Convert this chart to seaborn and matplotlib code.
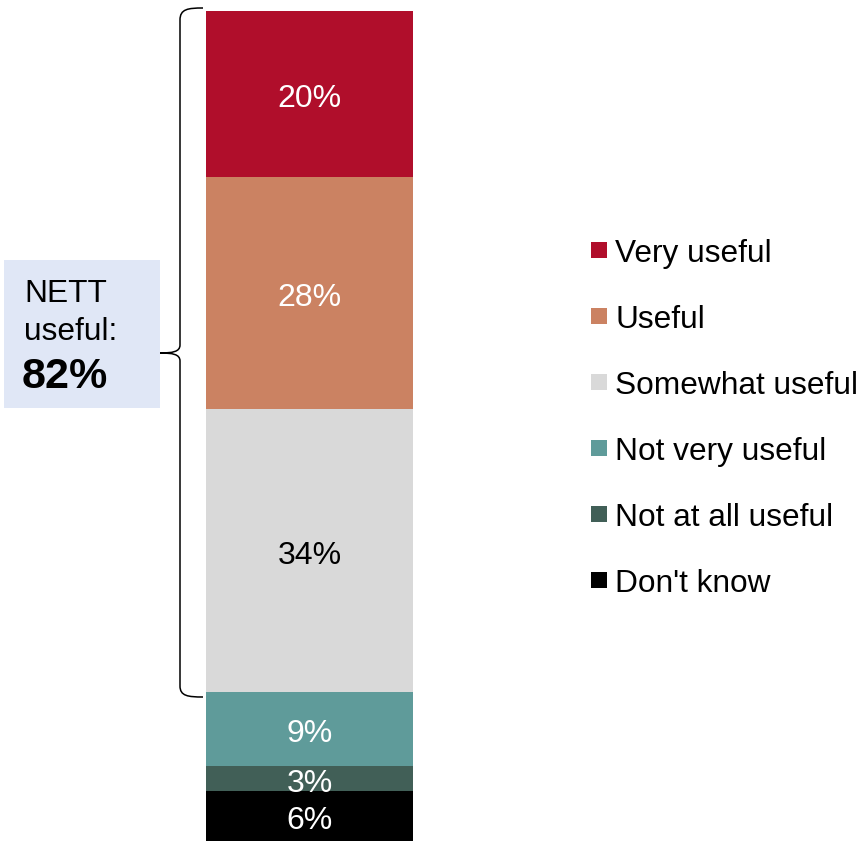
import matplotlib
matplotlib.use("Agg")
import matplotlib.pyplot as plt
import matplotlib.transforms as mtransforms
import seaborn as sns
import pandas as pd
import numpy as np
from matplotlib.path import Path
from matplotlib.patches import PathPatch, Rectangle

sns.set_theme(style="white")
plt.rcParams['font.family'] = ['Liberation Sans', 'DejaVu Sans']

# Data (bottom to top)
categories = ["Don't know", "Not at all useful", "Not very useful", "Somewhat useful", "Useful", "Very useful"]
values = [6, 3, 9, 34, 28, 20]
colors = ["#000000", "#415F57", "#5F9B9A", "#D9D9D9", "#CB8262", "#B00E2B"]
label_colors = ["white", "white", "white", "black", "white", "white"]
legend_order = ["Very useful", "Useful", "Somewhat useful", "Not very useful", "Not at all useful", "Don't know"]
nett_label = "82%"

W, H = 864, 841
fig = plt.figure(figsize=(W / 100, H / 100), dpi=100)

# Bar axes
ax = fig.add_axes([206 / W, 0, 207 / W, 830 / H])
cum = np.cumsum(values)
# draw cumulative bars from top to bottom so each overlays the previous
for i in range(len(values) - 1, -1, -1):
    df = pd.DataFrame({"grp": ["all"], "val": [cum[i]]})
    sns.barplot(data=df, x="grp", y="val", color=colors[i], width=1.0,
                saturation=1, ax=ax, linewidth=0, edgecolor="none")
ax.set_xlim(-0.5, 0.5)
ax.set_ylim(0, 100)
ax.axis("off")

starts = cum - np.array(values)
lab_tr = mtransforms.offset_copy(ax.transData, fig=fig, x=0, y=-13, units="dots")
for v, s, c in zip(values, starts, label_colors):
    ax.text(0, s + v / 2, f"{v}%", ha="center", va="baseline",
            fontsize=23, color=c, transform=lab_tr)

# Overlay axes in pixel coordinates
ov = fig.add_axes([0, 0, 1, 1])
ov.set_xlim(0, W)
ov.set_ylim(H, 0)
ov.axis("off")
ov.patch.set_alpha(0)

# NETT box
ov.add_patch(Rectangle((4, 260), 156, 148, facecolor="#E0E7F6", edgecolor="none"))
ov.text(24, 302, "NETT", fontsize=22.8, ha="left", va="baseline", color="black")
ov.text(24, 340, "useful:", fontsize=22.8, ha="left", va="baseline", color="black")
ov.text(22, 388, nett_label, fontsize=31, fontweight="bold", ha="left", va="baseline", color="black")

# Brace
verts = [
    (203, 8), (188, 8), (180, 9), (180, 20),
    (180, 345),
    (180, 352), (172, 353), (160, 353),
    (172, 353), (180, 354), (180, 361),
    (180, 686),
    (180, 696), (188, 697), (203, 697),
]
codes = [Path.MOVETO, Path.CURVE4, Path.CURVE4, Path.CURVE4,
         Path.LINETO,
         Path.CURVE4, Path.CURVE4, Path.CURVE4,
         Path.CURVE4, Path.CURVE4, Path.CURVE4,
         Path.LINETO,
         Path.CURVE4, Path.CURVE4, Path.CURVE4]
ov.add_patch(PathPatch(Path(verts, codes), facecolor="none", edgecolor="black", lw=1.1))

# Legend
col_map = dict(zip(categories, colors))
y0, dy = 250, 66
for k, name in enumerate(legend_order):
    yc = y0 + k * dy
    ov.add_patch(Rectangle((591, yc - 8), 16, 16, facecolor=col_map[name], edgecolor="none"))
    ov.text(615, yc, name, fontsize=22.8, ha="left", va="center_baseline", color="black")

fig.savefig("out.png", dpi=100)
